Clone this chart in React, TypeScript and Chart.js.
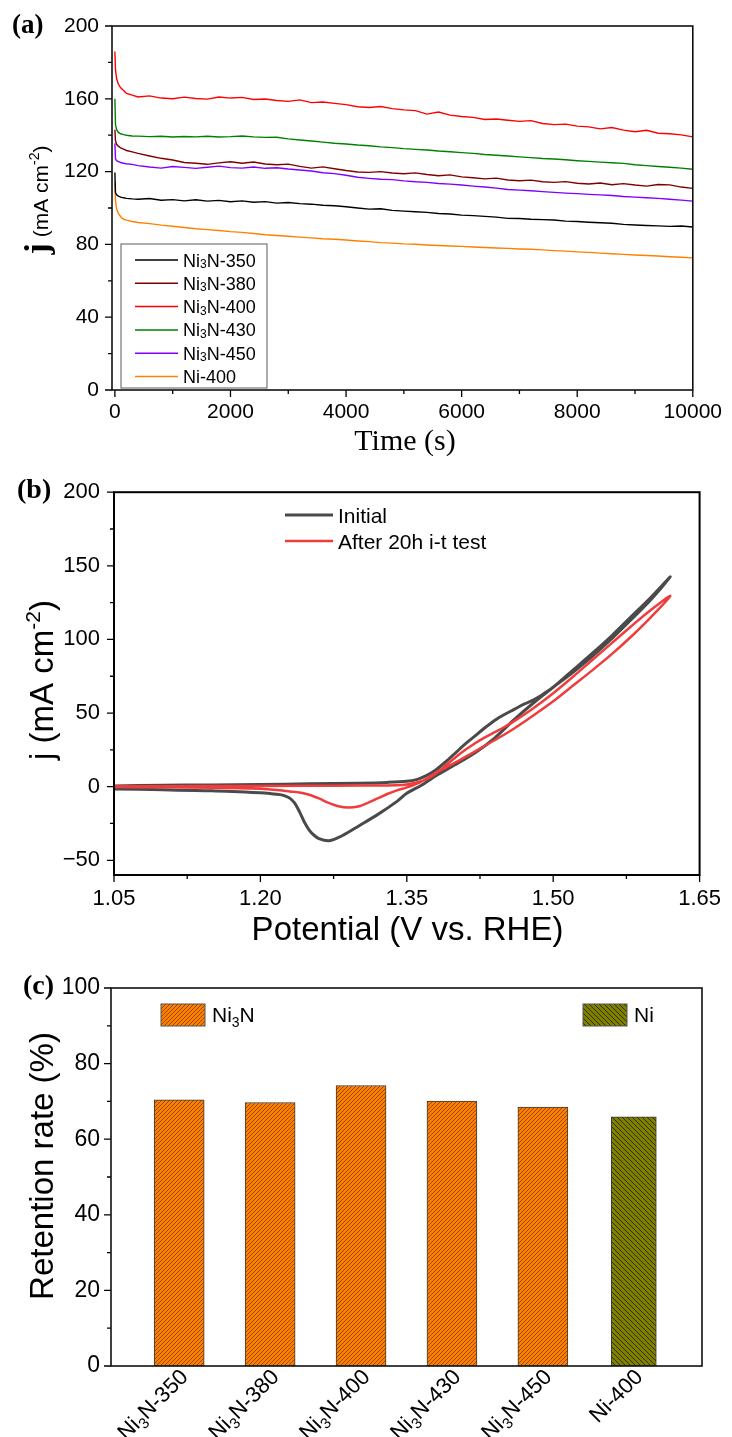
import React, { useEffect, useRef } from 'react';
import { Chart, registerables } from 'chart.js';

Chart.register(...registerables);

const SANS = '"Liberation Sans", Arial, sans-serif';
const SERIF = '"Liberation Serif", "Times New Roman", serif';

// ---------------- Panel (a): chronoamperometry ----------------
const timeS = [0, 10, 30, 60, 100, 150, 200, 300, 400, 600, 800, 1000, 1200, 1400, 1600, 1800, 2000, 2200, 2400, 2600, 2800, 3000, 3200, 3400, 3600, 3800, 4000, 4200, 4400, 4600, 4800, 5000, 5200, 5400, 5600, 5800, 6000, 6200, 6400, 6600, 6800, 7000, 7200, 7400, 7600, 7800, 8000, 8200, 8400, 8600, 8800, 9000, 9200, 9400, 9600, 9800, 10000];
const jNi3N350 = [119.5, 108.5, 107.2, 106.5, 106.0, 105.6, 105.3, 105.0, 104.8, 105.2, 104.3, 104.6, 103.9, 104.5, 103.8, 104.2, 103.4, 103.9, 103.2, 103.5, 102.7, 103.0, 102.4, 102.1, 101.5, 101.2, 100.7, 100.0, 99.4, 99.6, 98.7, 98.3, 97.9, 97.6, 97.0, 96.7, 96.1, 95.8, 95.4, 95.0, 94.3, 94.2, 93.8, 93.6, 93.4, 92.8, 92.6, 92.2, 91.9, 91.6, 91.0, 90.7, 90.4, 90.2, 89.9, 90.1, 89.6];
const jNi3N380 = [143, 137, 135, 134, 133, 132.3, 131.6, 130.8, 130.0, 128.6, 127.3, 126.4, 125.0, 124.6, 124.0, 124.8, 125.4, 124.6, 125.3, 124.2, 123.8, 124.1, 122.9, 121.9, 122.6, 121.6, 120.6, 119.8, 119.6, 120.0, 119.2, 118.8, 119.3, 118.4, 117.7, 118.2, 117.1, 116.6, 116.0, 116.4, 115.4, 115.0, 115.3, 114.4, 114.1, 114.5, 113.6, 113.2, 113.7, 112.8, 113.4, 112.6, 112.0, 112.9, 112.7, 111.5, 110.8];
const jNi3N400 = [186, 176, 171, 168, 166, 164.5, 163, 162, 161.0, 161.6, 160.4, 160.0, 160.9, 160.2, 159.8, 161.0, 160.4, 160.8, 159.6, 159.9, 159.1, 158.6, 159.4, 157.9, 158.2, 157.5, 156.8, 155.6, 155.2, 155.8, 154.6, 153.9, 153.5, 151.6, 152.7, 151.0, 150.3, 149.8, 148.6, 148.9, 148.2, 147.6, 148.0, 146.4, 145.8, 146.1, 145.0, 144.6, 143.5, 144.2, 142.8, 141.9, 142.7, 141.1, 140.8, 140.2, 139.1];
const jNi3N430 = [160, 146, 143, 141.5, 140.8, 140.3, 140, 139.6, 139.5, 139.2, 139.4, 139.0, 139.3, 139.1, 139.4, 139.0, 139.2, 139.6, 139.1, 138.8, 138.9, 138.0, 137.4, 136.8, 136.2, 135.6, 135.2, 134.6, 134.2, 133.6, 133.2, 132.6, 132.2, 131.9, 131.3, 130.9, 130.4, 130.0, 129.4, 129.0, 128.6, 128.1, 127.7, 127.2, 126.9, 126.5, 126.0, 125.6, 125.2, 124.9, 124.5, 123.8, 123.3, 122.8, 122.4, 121.9, 121.3];
const jNi3N450 = [135.5, 127, 126, 125.5, 125, 124.6, 124.3, 124.0, 123.3, 122.5, 121.9, 122.8, 122.3, 121.8, 122.4, 123.0, 122.2, 121.9, 122.5, 121.8, 122.1, 121.4, 120.9, 120.3, 119.4, 118.9, 118.0, 116.9, 116.3, 115.8, 115.6, 114.9, 114.4, 114.1, 113.5, 113.1, 112.6, 112.0, 111.5, 110.9, 110.2, 109.8, 109.5, 109.0, 108.6, 108.2, 107.9, 107.5, 107.2, 106.9, 106.3, 106.0, 105.6, 105.3, 104.8, 104.3, 103.8];
const jNi400 = [114.4, 104, 99.5, 97, 95.2, 93.8, 93.3, 92.6, 92.0, 91.4, 90.6, 90.0, 89.3, 88.6, 88.1, 87.6, 87.0, 86.6, 86.0, 85.3, 84.9, 84.5, 84.0, 83.6, 83.1, 82.8, 82.4, 81.9, 81.5, 81.0, 80.7, 80.3, 80.1, 79.7, 79.4, 79.1, 78.9, 78.6, 78.3, 78.0, 77.8, 77.5, 77.3, 77.0, 76.6, 76.3, 75.9, 75.6, 75.2, 74.9, 74.5, 74.2, 73.9, 73.6, 73.2, 72.9, 72.6];
const labelsA = ['Ni3N-350', 'Ni3N-380', 'Ni3N-400', 'Ni3N-430', 'Ni3N-450', 'Ni-400'];
const valuesA = [jNi3N350, jNi3N380, jNi3N400, jNi3N430, jNi3N450, jNi400];
const colorsA = ['#000000', '#800000', '#ff0000', '#008000', '#8000ff', '#ff8000'];
const aXTicks = [0, 2000, 4000, 6000, 8000, 10000];
const aXMinor = [1000, 3000, 5000, 7000, 9000];
const aYTicks = [0, 40, 80, 120, 160, 200];
const aYMinor = [20, 60, 100, 140, 180];

// ---------------- Panel (b): CV curves ----------------
const potInitial = [1.05, 1.10, 1.15, 1.20, 1.25, 1.30, 1.33, 1.35, 1.36, 1.37, 1.38, 1.39, 1.40, 1.41, 1.42, 1.43, 1.44, 1.45, 1.46, 1.47, 1.48, 1.49, 1.50, 1.52, 1.54, 1.56, 1.58, 1.60, 1.62,
  1.60, 1.58, 1.56, 1.54, 1.52, 1.50, 1.48, 1.46, 1.44, 1.42, 1.40, 1.38, 1.365, 1.35, 1.34, 1.32, 1.30, 1.29, 1.28, 1.27, 1.26, 1.255, 1.25, 1.245, 1.24, 1.235, 1.23, 1.225, 1.22, 1.21, 1.20, 1.15, 1.10, 1.05];
const jInitial = [0.5, 0.9, 1.2, 1.5, 1.9, 2.4, 2.9, 3.6, 4.8, 7.5, 11.5, 17, 23, 29, 34.5, 40, 45, 49, 52.5, 56, 59, 63, 67.5, 79, 90.5, 102.5, 115.5, 128.5, 142.5,
  127, 113.5, 100.5, 88.5, 77.5, 67.5, 57, 45.5, 33, 23, 15, 7.5, 1, -4.5, -10, -19, -27, -31, -34.5, -36.7, -35.3, -33, -29.5, -24, -17, -11, -7.8, -6.2, -5.4, -4.7, -4.2, -2.8, -2.1, -1.6];
const potAfter = [1.05, 1.15, 1.25, 1.30, 1.34, 1.35, 1.36, 1.37, 1.38, 1.39, 1.40, 1.41, 1.42, 1.43, 1.44, 1.45, 1.46, 1.48, 1.50, 1.52, 1.54, 1.56, 1.58, 1.60, 1.62,
  1.60, 1.58, 1.56, 1.54, 1.52, 1.50, 1.48, 1.46, 1.44, 1.42, 1.40, 1.39, 1.38, 1.365, 1.35, 1.34, 1.33, 1.32, 1.31, 1.30, 1.29, 1.28, 1.27, 1.26, 1.25, 1.24, 1.23, 1.22, 1.20, 1.15, 1.10, 1.05];
const jAfter = [0.3, 0.4, 0.6, 0.8, 1.0, 1.5, 2.8, 5, 9, 14.5, 20, 25, 29.5, 33.5, 37, 40.5, 44.5, 53.5, 63.5, 74.5, 86, 97.5, 109, 120, 129.5,
  115, 102, 90, 79, 68.5, 58, 48.5, 39.5, 31.5, 24, 16.5, 13, 9.5, 3.5, -0.5, -2.5, -5, -8, -11, -13.5, -14.2, -13.3, -11, -8, -5.5, -4, -3.3, -2.5, -1.5, -0.7, -0.4, -0.3];
const labelsB = ['Initial', 'After 20h i-t test'];
const bXTicks = [1.05, 1.2, 1.35, 1.5, 1.65];
const bXMinor = [1.125, 1.275, 1.425, 1.575];
const bYTicks = [-50, 0, 50, 100, 150, 200];
const bYMinor = [-25, 25, 75, 125, 175];

// ---------------- Panel (c): retention ----------------
const catsC = ['Ni3N-350', 'Ni3N-380', 'Ni3N-400', 'Ni3N-430', 'Ni3N-450', 'Ni-400'];
const retention = [70.4, 69.7, 74.2, 70.1, 68.5, 65.9];
const groupC = ['Ni3N', 'Ni3N', 'Ni3N', 'Ni3N', 'Ni3N', 'Ni'];
const cYTicks = [0, 20, 40, 60, 80, 100];
const cYMinor = [10, 30, 50, 70, 90];

// ---------------- helpers ----------------
type Seg = { t: string; f: string; dy?: number };

function drawSegs(ctx: any, segs: Seg[], x: number, y: number, align: string) {
  const widths = segs.map((s) => { ctx.font = s.f; return ctx.measureText(s.t).width; });
  const total = widths.reduce((a, b) => a + b, 0);
  let cx = align === 'left' ? x : align === 'center' ? x - total / 2 : x - total;
  ctx.textAlign = 'left';
  ctx.textBaseline = 'alphabetic';
  segs.forEach((s, i) => { ctx.font = s.f; ctx.fillText(s.t, cx, y + (s.dy || 0)); cx += widths[i]; });
}

function drawRotated(ctx: any, segs: Seg[], x: number, y: number) {
  ctx.save();
  ctx.translate(x, y);
  ctx.rotate(-Math.PI / 2);
  drawSegs(ctx, segs, 0, 0, 'center');
  ctx.restore();
}

function nameSegs(label: string, size: number, subSize: number, subDy: number): Seg[] {
  if (label.startsWith('Ni3N')) {
    return [
      { t: 'Ni', f: `${size}px ${SANS}` },
      { t: '3', f: `${subSize}px ${SANS}`, dy: subDy },
      { t: label.slice(3), f: `${size}px ${SANS}` },
    ];
  }
  return [{ t: label, f: `${size}px ${SANS}` }];
}

function framePlugin(cfg: any) {
  return {
    id: cfg.id,
    afterDraw(chart: any) {
      const ctx = chart.ctx;
      const a = chart.chartArea;
      const xs = chart.scales.x;
      const ys = chart.scales.y;
      ctx.save();
      ctx.strokeStyle = '#000';
      ctx.lineWidth = 1.3;
      ctx.beginPath();
      cfg.yMajor.forEach((v: number) => { const y = ys.getPixelForValue(v); ctx.moveTo(a.left - 7, y); ctx.lineTo(a.left, y); });
      cfg.yMinor.forEach((v: number) => { const y = ys.getPixelForValue(v); ctx.moveTo(a.left - 4, y); ctx.lineTo(a.left, y); });
      cfg.xMajor.forEach((v: number) => { const x = xs.getPixelForValue(v); ctx.moveTo(x, a.bottom); ctx.lineTo(x, a.bottom + 7); });
      cfg.xMinor.forEach((v: number) => { const x = xs.getPixelForValue(v); ctx.moveTo(x, a.bottom); ctx.lineTo(x, a.bottom + 4); });
      ctx.stroke();
      ctx.lineWidth = cfg.frameWidth;
      ctx.strokeStyle = cfg.frameColor;
      ctx.strokeRect(a.left, a.top, a.right - a.left, a.bottom - a.top);
      ctx.fillStyle = '#000';
      if (cfg.extra) cfg.extra(ctx, chart);
      ctx.restore();
    },
  };
}

function linAxis(min: number, max: number, ticks: number[], size: number, padding: number, fit: (s: any) => void, fmt?: (v: number) => string, show = true) {
  return {
    type: 'linear',
    min,
    max,
    offset: false,
    afterBuildTicks: (s: any) => { s.ticks = ticks.map((v) => ({ value: v })); },
    afterFit: fit,
    grid: { display: false, drawTicks: false },
    border: { display: false },
    ticks: {
      display: show,
      font: { family: SANS, size },
      color: '#000',
      padding,
      maxRotation: 0,
      minRotation: 0,
      autoSkip: false,
      callback: (v: any) => (fmt ? fmt(Number(v)) : String(v)),
    },
  };
}

function makeHatch(ctx: any, bg: string, fg: string, size: number, lw: number, dir: string) {
  const c = document.createElement('canvas');
  c.width = size;
  c.height = size;
  const g = c.getContext('2d') as CanvasRenderingContext2D;
  g.fillStyle = bg;
  g.fillRect(0, 0, size, size);
  g.strokeStyle = fg;
  g.lineWidth = lw;
  g.beginPath();
  if (dir === '/') {
    g.moveTo(-1, size + 1); g.lineTo(size + 1, -1);
    g.moveTo(-1, 1); g.lineTo(1, -1);
    g.moveTo(size - 1, size + 1); g.lineTo(size + 1, size - 1);
  } else {
    g.moveTo(-1, -1); g.lineTo(size + 1, size + 1);
    g.moveTo(-1, size - 1); g.lineTo(1, size + 1);
    g.moveTo(size - 1, -1); g.lineTo(size + 1, 1);
  }
  g.stroke();
  return ctx.createPattern(c, 'repeat');
}

// ---------------- charts ----------------
function makeA(canvas: HTMLCanvasElement) {
  const datasets = labelsA.map((label, k) => ({
    label,
    data: timeS.map((t, i) => ({ x: t, y: valuesA[k][i] })),
    borderColor: colorsA[k],
    backgroundColor: colorsA[k],
    borderWidth: 1.4,
    pointRadius: 0,
    tension: 0,
    fill: false,
  }));
  const extra = (ctx: any) => {
    ctx.fillStyle = '#000';
    drawSegs(ctx, [{ t: '(a)', f: `bold 27px ${SERIF}` }], 12, 33, 'left');
    drawRotated(ctx, [
      { t: 'j', f: `bold 34px ${SERIF}` },
      { t: ' (mA cm', f: `21px ${SANS}` },
      { t: '-2', f: `14px ${SANS}`, dy: -9 },
      { t: ')', f: `21px ${SANS}` },
    ], 48, 200);
    drawSegs(ctx, [{ t: 'Time (s)', f: `30px ${SERIF}` }], 405, 450, 'center');
    // legend
    ctx.fillStyle = '#fff';
    ctx.fillRect(121, 244, 146, 144);
    ctx.strokeStyle = '#808080';
    ctx.lineWidth = 1.3;
    ctx.strokeRect(121, 244, 146, 144);
    labelsA.forEach((label, k) => {
      const cy = 260 + k * 23.3;
      ctx.strokeStyle = colorsA[k];
      ctx.lineWidth = 1.5;
      ctx.beginPath();
      ctx.moveTo(135, cy);
      ctx.lineTo(178, cy);
      ctx.stroke();
      ctx.fillStyle = '#000';
      drawSegs(ctx, nameSegs(label, 18, 12, 1.5), 183, cy + 6.5, 'left');
    });
  };
  return new Chart(canvas, {
    type: 'line',
    data: { datasets },
    options: {
      responsive: false,
      animation: false,
      devicePixelRatio: 1,
      layout: { padding: { left: 0, top: 26, right: 34, bottom: 0 } },
      plugins: { legend: { display: false }, tooltip: { enabled: false } },
      scales: {
        x: linAxis(-50, 10000, aXTicks, 21, 10, (s: any) => { s.height = 75; }),
        y: linAxis(0, 200, aYTicks, 21, 13, (s: any) => { s.width = 112; }),
      },
    } as any,
    plugins: [framePlugin({ id: 'frameA', xMajor: aXTicks, xMinor: aXMinor, yMajor: aYTicks, yMinor: aYMinor, frameColor: '#111', frameWidth: 1.6, extra })],
  } as any);
}

function makeB(canvas: HTMLCanvasElement) {
  const gray = '#4a4a4a';
  const red = '#f03c3c';
  const datasets = [
    {
      label: labelsB[1],
      data: potAfter.map((p, i) => ({ x: p, y: jAfter[i] })),
      borderColor: red,
      borderWidth: 2.5,
      pointRadius: 0,
      tension: 0.3,
      fill: false,
    },
    {
      label: labelsB[0],
      data: potInitial.map((p, i) => ({ x: p, y: jInitial[i] })),
      borderColor: gray,
      borderWidth: 3,
      pointRadius: 0,
      tension: 0.3,
      fill: false,
    },
  ];
  const extra = (ctx: any) => {
    ctx.fillStyle = '#000';
    drawSegs(ctx, [{ t: '(b)', f: `bold 28px ${SERIF}` }], 17, 32.5, 'left');
    drawRotated(ctx, [
      { t: 'j (mA cm', f: `33px ${SANS}` },
      { t: '-2', f: `21px ${SANS}`, dy: -13 },
      { t: ')', f: `33px ${SANS}` },
    ], 53, 215);
    drawSegs(ctx, [{ t: 'Potential (V vs. RHE)', f: `33px ${SANS}` }], 407.5, 475, 'center');
    const items = [{ c: gray, w: 3, y: 50, t: labelsB[0] }, { c: red, w: 2.5, y: 76, t: labelsB[1] }];
    items.forEach((it) => {
      ctx.strokeStyle = it.c;
      ctx.lineWidth = it.w;
      ctx.beginPath();
      ctx.moveTo(285, it.y);
      ctx.lineTo(333, it.y);
      ctx.stroke();
      ctx.fillStyle = '#000';
      drawSegs(ctx, [{ t: it.t, f: `21px ${SANS}` }], 338, it.y + 7.5, 'left');
    });
  };
  return new Chart(canvas, {
    type: 'line',
    data: { datasets },
    options: {
      responsive: false,
      animation: false,
      devicePixelRatio: 1,
      layout: { padding: { left: 0, top: 16, right: 31, bottom: 0 } },
      plugins: { legend: { display: false }, tooltip: { enabled: false } },
      scales: {
        x: linAxis(1.05, 1.65, bXTicks, 22, 11, (s: any) => { s.height = 75; }, (v) => v.toFixed(2)),
        y: linAxis(-60, 200, bYTicks, 22, 14, (s: any) => { s.width = 114; }, (v) => (v < 0 ? '\u2212' + Math.abs(v) : String(v))),
      },
    } as any,
    plugins: [framePlugin({ id: 'frameB', xMajor: bXTicks, xMinor: bXMinor, yMajor: bYTicks, yMinor: bYMinor, frameColor: '#000', frameWidth: 2, extra })],
  } as any);
}

function makeC(canvas: HTMLCanvasElement) {
  const c2d = canvas.getContext('2d');
  const patOrange = makeHatch(c2d, '#ff8000', 'rgba(60,30,0,0.8)', 4, 0.7, '/');
  const patOlive = makeHatch(c2d, '#808000', 'rgba(20,20,0,0.85)', 5, 0.9, '\\');
  const idxNi3N = groupC.map((g, i) => (g === 'Ni3N' ? i : -1)).filter((i) => i >= 0);
  const idxNi = groupC.map((g, i) => (g === 'Ni' ? i : -1)).filter((i) => i >= 0);
  const datasets = [
    {
      label: 'Ni3N',
      data: idxNi3N.map((i) => ({ x: i, y: retention[i] })),
      backgroundColor: patOrange,
      borderColor: '#3a3a3a',
      borderWidth: 1,
      borderSkipped: false,
      barThickness: 50,
      grouped: false,
    },
    {
      label: 'Ni',
      data: idxNi.map((i) => ({ x: i, y: retention[i] })),
      backgroundColor: patOlive,
      borderColor: '#3a3a3a',
      borderWidth: 1,
      borderSkipped: false,
      barThickness: 45,
      grouped: false,
    },
  ];
  const extra = (ctx: any, chart: any) => {
    const a = chart.chartArea;
    const xs = chart.scales.x;
    ctx.fillStyle = '#000';
    drawSegs(ctx, [{ t: '(c)', f: `bold 28px ${SERIF}` }], 23, 44, 'left');
    drawRotated(ctx, [{ t: 'Retention rate (%)', f: `33px ${SANS}` }], 53, 216);
    catsC.forEach((cat, i) => {
      const px = xs.getPixelForValue(i);
      ctx.save();
      ctx.translate(px + 10, a.bottom + 12);
      ctx.rotate(-Math.PI / 4);
      ctx.fillStyle = '#000';
      drawSegs(ctx, nameSegs(cat, 22, 15, 5), 0, 0, 'right');
      ctx.restore();
    });
    const items = [
      { p: patOrange, x: 161, segs: nameSegs('Ni3N', 21, 14, 5) },
      { p: patOlive, x: 583, segs: [{ t: 'Ni', f: `21px ${SANS}` }] },
    ];
    items.forEach((it) => {
      ctx.fillStyle = it.p;
      ctx.fillRect(it.x, 54, 44, 22);
      ctx.strokeStyle = '#555';
      ctx.lineWidth = 1;
      ctx.strokeRect(it.x, 54, 44, 22);
      ctx.fillStyle = '#000';
      drawSegs(ctx, it.segs, it.x + 51, 71.5, 'left');
    });
  };
  return new Chart(canvas, {
    type: 'bar',
    data: { datasets },
    options: {
      responsive: false,
      animation: false,
      devicePixelRatio: 1,
      layout: { padding: { left: 0, top: 38, right: 30, bottom: 0 } },
      plugins: { legend: { display: false }, tooltip: { enabled: false } },
      scales: {
        x: linAxis(-0.75, 5.75, [0, 1, 2, 3, 4, 5], 22, 10, (s: any) => { s.height = 71; }, undefined, false),
        y: linAxis(0, 100, cYTicks, 23, 11, (s: any) => { s.width = 111; }),
      },
    } as any,
    plugins: [framePlugin({ id: 'frameC', xMajor: [], xMinor: [], yMajor: cYTicks, yMinor: cYMinor, frameColor: '#111', frameWidth: 1.6, extra })],
  } as any);
}

export default function App() {
  const refA = useRef<HTMLCanvasElement>(null);
  const refB = useRef<HTMLCanvasElement>(null);
  const refC = useRef<HTMLCanvasElement>(null);
  useEffect(() => {
    const charts: any[] = [];
    if (refA.current) charts.push(makeA(refA.current));
    if (refB.current) charts.push(makeB(refB.current));
    if (refC.current) charts.push(makeC(refC.current));
    return () => charts.forEach((c) => c.destroy());
  }, []);
  return (
    <div style={{ position: 'absolute', left: 0, top: 0, width: 732, height: 1437, background: '#fff', overflow: 'hidden' }}>
      <canvas ref={refA} width={732} height={465} style={{ position: 'absolute', left: 0, top: 0 }} />
      <canvas ref={refB} width={732} height={485} style={{ position: 'absolute', left: 0, top: 465 }} />
      <canvas ref={refC} width={732} height={487} style={{ position: 'absolute', left: 0, top: 950 }} />
    </div>
  );
}
